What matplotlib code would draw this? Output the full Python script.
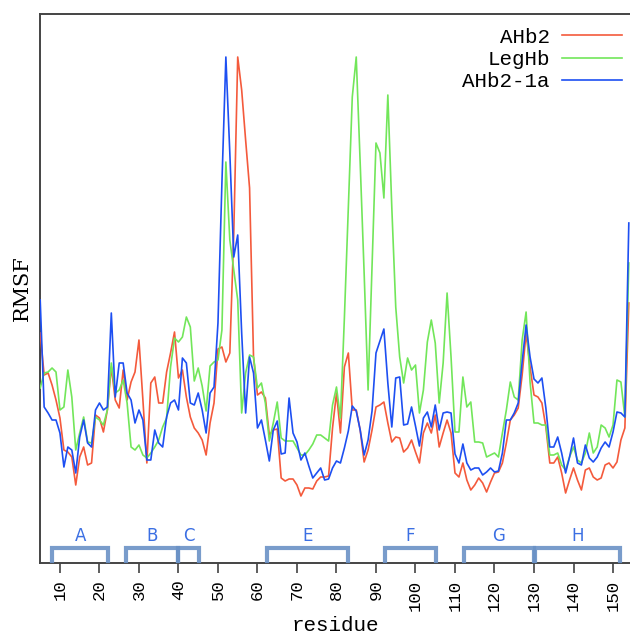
#!/usr/bin/env python3
"""RMSF per residue for AHb2, LegHb and AHb2-1a, with helix brackets."""

import matplotlib

matplotlib.use("Agg")
import matplotlib.pyplot as plt
import matplotlib.transforms as mtransforms

OUTPUT_PNG = "out.png"

MONO = ["Liberation Mono", "DejaVu Sans Mono"]

# residue numbers 5..154
RESIDUES = list(range(5, 155))

AHB2 = [
    2.30, 1.88, 1.90, 1.78, 1.63, 1.45, 1.13, 1.11, 1.06, 0.78,
    1.06, 1.16, 0.98, 1.00, 1.48, 1.45, 1.31, 1.53, 1.96, 1.63,
    1.55, 1.93, 1.63, 1.81, 1.91, 2.23, 1.63, 1.00, 1.80, 1.86,
    1.60, 1.60, 1.91, 2.10, 2.31, 1.85, 1.93, 1.66, 1.46, 1.35,
    1.30, 1.23, 1.08, 1.40, 1.60, 2.14, 2.16, 2.01, 2.10, 3.30,
    5.06, 4.73, 4.23, 3.75, 2.06, 1.68, 1.71, 1.65, 1.28, 1.33,
    1.34, 0.85, 0.82, 0.84, 0.84, 0.78, 0.67, 0.75, 0.75, 0.74,
    0.82, 0.86, 0.86, 0.87, 1.35, 1.70, 1.30, 1.96, 2.10, 1.53,
    1.53, 1.33, 1.01, 1.13, 1.33, 1.56, 1.58, 1.61, 1.40, 1.21,
    1.26, 1.25, 1.11, 1.15, 1.23, 1.11, 1.00, 1.30, 1.40, 1.30,
    1.48, 1.16, 1.30, 1.43, 1.30, 0.90, 0.86, 1.00, 0.83, 0.73,
    0.78, 0.85, 0.80, 0.71, 0.81, 0.90, 0.91, 1.00, 1.20, 1.43,
    1.48, 1.55, 1.88, 2.30, 1.96, 1.68, 1.66, 1.60, 1.36, 1.00,
    1.00, 1.06, 0.90, 0.70, 0.83, 0.95, 0.83, 0.73, 0.93, 0.95,
    0.86, 0.83, 0.85, 0.98, 1.00, 0.95, 1.01, 1.23, 1.35, 2.60,
]

LEGHB = [
    1.75, 1.90, 1.91, 1.95, 1.91, 1.53, 1.56, 1.93, 1.66, 1.13,
    1.30, 1.46, 1.21, 1.20, 1.46, 1.43, 1.38, 1.53, 2.00, 1.70,
    1.73, 1.83, 1.60, 1.16, 1.13, 1.18, 1.08, 1.05, 1.10, 1.16,
    1.23, 1.36, 1.45, 1.96, 2.25, 2.21, 2.26, 2.46, 2.36, 1.82,
    1.95, 1.77, 1.52, 1.97, 2.01, 2.03, 2.33, 4.01, 3.23, 2.93,
    2.63, 1.50, 1.90, 2.08, 2.06, 1.75, 1.80, 1.60, 1.22, 1.40,
    1.61, 1.25, 1.22, 1.22, 1.22, 1.15, 1.08, 1.08, 1.13, 1.19,
    1.28, 1.28, 1.25, 1.22, 1.58, 1.76, 1.45, 2.45, 3.56, 4.66,
    5.06, 4.00, 2.90, 1.73, 2.96, 4.20, 4.10, 3.65, 4.68, 3.56,
    2.56, 2.06, 1.80, 2.05, 1.93, 1.98, 1.50, 1.73, 2.21, 2.43,
    2.20, 1.60, 2.00, 2.70, 2.06, 1.31, 1.31, 1.86, 1.56, 1.61,
    1.21, 1.21, 1.20, 1.06, 1.08, 1.10, 1.06, 1.30, 1.53, 1.81,
    1.66, 1.63, 2.23, 2.51, 1.81, 1.40, 1.40, 1.38, 1.38, 1.08,
    1.08, 1.10, 0.98, 0.93, 1.06, 1.16, 1.03, 1.00, 1.10, 1.30,
    1.10, 1.16, 1.38, 1.35, 1.26, 1.38, 1.83, 1.81, 1.46, 3.00,
]

AHB2_1A = [
    2.63, 1.56, 1.50, 1.43, 1.43, 1.30, 0.96, 1.16, 1.13, 0.90,
    1.26, 1.43, 1.20, 1.16, 1.53, 1.60, 1.53, 1.56, 2.50, 1.66,
    2.00, 2.00, 1.70, 1.63, 1.40, 1.53, 1.43, 1.03, 1.03, 1.33,
    1.20, 1.16, 1.46, 1.60, 1.63, 1.53, 2.05, 2.00, 1.60, 1.58,
    1.70, 1.53, 1.30, 1.70, 1.76, 2.40, 3.80, 5.06, 4.10, 3.06,
    3.28, 2.30, 1.50, 2.06, 1.90, 1.35, 1.43, 1.23, 1.02, 1.33,
    1.42, 1.09, 1.10, 1.65, 1.30, 1.21, 1.03, 1.10, 0.97, 0.85,
    0.90, 0.95, 0.83, 0.84, 0.95, 1.02, 1.00, 1.15, 1.32, 1.57,
    1.52, 1.33, 1.08, 1.23, 1.52, 2.10, 2.22, 2.34, 1.80, 1.36,
    1.85, 1.86, 1.38, 1.39, 1.56, 1.37, 1.17, 1.45, 1.51, 1.36,
    1.58, 1.33, 1.50, 1.51, 1.50, 1.09, 1.00, 1.19, 1.00, 0.93,
    0.95, 0.95, 0.88, 0.91, 0.95, 0.91, 0.92, 1.10, 1.43, 1.43,
    1.50, 1.60, 2.01, 2.38, 2.06, 1.84, 1.80, 1.85, 1.55, 1.16,
    1.16, 1.26, 1.10, 0.90, 1.06, 1.25, 1.00, 0.98, 1.18, 1.05,
    1.01, 1.06, 1.15, 1.21, 1.16, 1.31, 1.51, 1.50, 1.46, 3.40,
]

SERIES_LABELS = ["AHb2", "LegHb", "AHb2-1a"]
SERIES_COLORS = ["#f45a3c", "#72e65a", "#1d4ff2"]

HELIX_NAMES = ["A", "B", "C", "E", "F", "G", "H"]
HELIX_START = [8, 26.7, 40, 62.3, 92.3, 112.3, 130.3]
HELIX_END = [22.2, 40, 45.2, 83, 105.2, 130, 151.8]

X_TICKS = list(range(10, 151, 10))

BRACKET_COLOR = "#6a91c6"
HELIX_TEXT_COLOR = "#3b6fe3"


def add_helices(ax):
    trans = mtransforms.blended_transform_factory(ax.transData, ax.transAxes)
    y_low, y_high = 0.004, 0.028
    for name, start, end in zip(HELIX_NAMES, HELIX_START, HELIX_END):
        ax.plot(
            [start, start, end, end],
            [y_low, y_high, y_high, y_low],
            color=BRACKET_COLOR,
            linewidth=3.0,
            alpha=0.9,
            solid_joinstyle="miter",
            transform=trans,
            clip_on=False,
            zorder=4,
        )
        ax.text(
            (start + end) / 2,
            0.049,
            name,
            color=HELIX_TEXT_COLOR,
            fontsize=12,
            family="DejaVu Sans",
            ha="center",
            va="center",
            transform=trans,
        )


def main():
    fig = plt.figure(figsize=(6.3, 6.36), dpi=100)
    fig.patch.set_facecolor("white")
    ax = fig.add_axes([40 / 630, 1 - 563 / 636, 590 / 630, 549 / 636])

    for values, label, color in zip([AHB2, LEGHB, AHB2_1A], SERIES_LABELS, SERIES_COLORS):
        ax.plot(RESIDUES, values, color=color, linewidth=1.2, label=label, zorder=3)

    ax.set_xlim(4.95, 154.3)
    ax.set_ylim(0, 5.49)

    ax.set_xticks(X_TICKS)
    ax.set_xticklabels([str(t) for t in X_TICKS], rotation=90, family=MONO, fontsize=12.5)
    ax.tick_params(axis="x", direction="out", length=7, width=1.1, pad=5, color="#333333")
    ax.set_yticks([])

    ax.set_xlabel("residue", family=MONO, fontsize=15, labelpad=4)
    ax.set_ylabel("RMSF", family="DejaVu Serif", fontsize=15, labelpad=6)

    for side in ["left", "top", "bottom"]:
        ax.spines[side].set_linewidth(1.4)
        ax.spines[side].set_color("#444444")
    ax.spines["right"].set_visible(False)

    add_helices(ax)

    leg = ax.legend(
        loc="upper right",
        bbox_to_anchor=(0.986, 0.975),
        frameon=False,
        markerfirst=False,
        handlelength=2.85,
        handletextpad=0.6,
        labelspacing=0.15,
        borderpad=0,
        borderaxespad=0,
        prop={"family": MONO, "size": 15},
    )
    for text in leg.get_texts():
        text.set_ha("right")

    fig.savefig(OUTPUT_PNG, dpi=100, facecolor="white")
    plt.close(fig)


if __name__ == "__main__":
    main()
